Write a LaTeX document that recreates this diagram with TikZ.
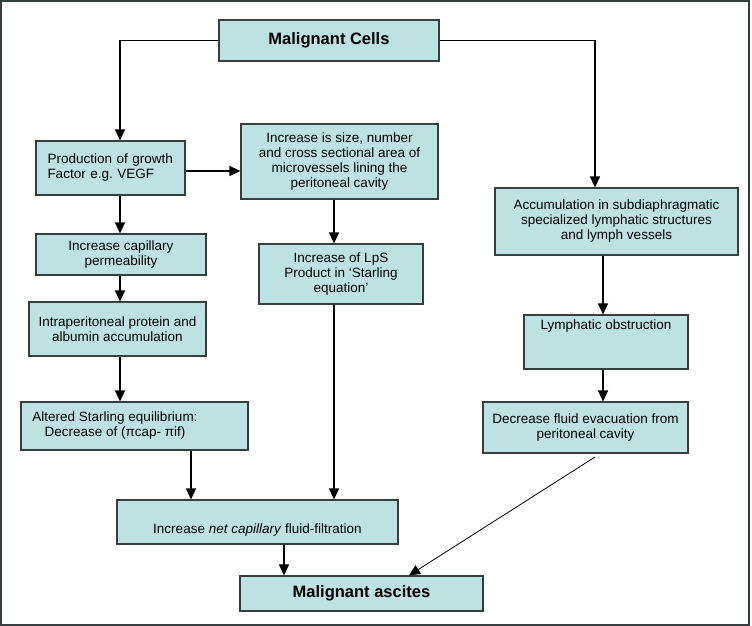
\documentclass[tikz,border=0pt]{standalone}
\usepackage{fontspec}
\setmainfont{Liberation Sans}
\frenchspacing
\usepackage{tikz}
\usetikzlibrary{arrows.meta, positioning}
\definecolor{boxfill}{RGB}{190,225,225}
\definecolor{boxline}{RGB}{55,62,62}
\tikzstyle{box} = [rectangle, draw=boxline, fill=boxfill, line width=1.1pt, inner sep=0pt, align=center, font=\fontsize{13.5pt}{15pt}\selectfont]
\tikzstyle{title} = [box, font=\fontsize{16.5pt}{18pt}\selectfont\bfseries]
\tikzstyle{arrow} = [line width=1.1pt, ->, >={Triangle[length=11pt, width=10pt]}]
\tikzstyle{thinarrow} = [line width=0.8pt, ->, >={Triangle[length=11pt, width=10pt]}]

\begin{document}
\begin{tikzpicture}[x=1pt, y=-1pt]
    \useasboundingbox (0,0) rectangle (752,626);
    \draw [line width=1.4pt, color=boxline] (1,1) rectangle (749,625);

    \node (cells) [title, minimum width=220, minimum height=41] at (329,40.5) {Malignant Cells};
    \node (growth) [box, minimum width=149, minimum height=54, text width=126, align=left] at (110.5,168) {Production of growth\\ Factor e.g. VEGF};
    \node (vessels) [box, minimum width=197, minimum height=75] at (339.5,161.5) {Increase is size, number\\ and cross sectional area of\\ microvessels lining the\\ peritoneal cavity};
    \node (accum) [box, minimum width=243, minimum height=67] at (616.5,221.5) {Accumulation in subdiaphragmatic\\ specialized lymphatic structures\\ and lymph vessels};
    \node (perm) [box, minimum width=170, minimum height=41] at (121,254.5) {Increase capillary\\ permeability};
    \node (lps) [box, minimum width=164, minimum height=60] at (341,274) {Increase of LpS\\ Product in ‘Starling\\ equation’};
    \node (albumin) [box, minimum width=177, minimum height=54] at (117.5,329) {Intraperitoneal protein and\\ albumin accumulation};
    \node (obstr) [box, minimum width=164, minimum height=54] at (606,342) {Lymphatic obstruction\\ \strut\\ \strut};
    \node (starling) [box, minimum width=227, minimum height=48] at (134.5,426) {\begin{tabular}{@{}c@{}}Altered Starling equilibrium:\\ Decrease of (πcap- πif)\end{tabular}\hspace{39pt}};
    \node (evac) [box, minimum width=205, minimum height=51] at (585.5,427.5) {Decrease fluid evacuation from\\ peritoneal cavity};
    \node (filtr) [box, minimum width=281, minimum height=44] at (257.5,522) {\strut\\ Increase \textit{net capillary} fluid-filtration};
    \node (ascites) [title, minimum width=243, minimum height=35] at (361.5,593.5) {Malignant ascites};

    \coordinate (evacout) at (595,457);

    \draw [arrow] (cells.west) -| ([xshift=9.5]growth.north);
    \draw [arrow] (cells.east) -| ([xshift=-21.5]accum.north);
    \draw [arrow] ([yshift=-3]growth.east) -- ([yshift=-3]growth.east -| vessels.west);
    \draw [arrow] ([xshift=9.5]growth.south) -- ([xshift=9.5]growth.south |- perm.north);
    \draw [arrow] ([xshift=-1]perm.south) -- ([xshift=-1]perm.south |- albumin.north);
    \draw [arrow] ([xshift=2.5]albumin.south) -- ([xshift=2.5]albumin.south |- starling.north);
    \draw [arrow] ([xshift=-5.5]vessels.south) -- ([xshift=-5.5]vessels.south |- lps.north);
    \draw [arrow] ([xshift=-7]lps.south) -- ([xshift=-7]lps.south |- filtr.north);
    \draw [arrow] ([xshift=56.5]starling.south) -- ([xshift=56.5]starling.south |- filtr.north);
    \draw [arrow] ([xshift=-13.5]accum.south) -- ([xshift=-13.5]accum.south |- obstr.north);
    \draw [arrow] ([xshift=-3]obstr.south) -- ([xshift=-3]obstr.south |- evac.north);
    \draw [arrow] ([xshift=26.5]filtr.south) -- ([xshift=26.5]filtr.south |- ascites.north);
    \draw [thinarrow] (evacout) -- ([xshift=47.5]ascites.north);
\end{tikzpicture}
\end{document}
